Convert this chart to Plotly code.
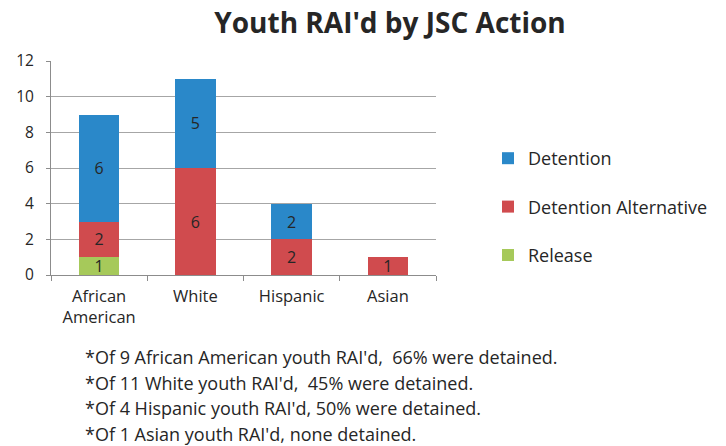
import plotly.graph_objects as go

# Youth RAI'd counts by JSC action, per race/ethnicity
categories = ["African<br>American", "White", "Hispanic", "Asian"]
release = [1, None, None, None]
detention_alt = [2, 6, 2, 1]
detention = [6, 5, 2, None]

y_ticks = [0, 2, 4, 6, 8, 10, 12]

notes = [
    "*Of 9 African American youth RAI'd,  66% were detained.",
    "*Of 11 White youth RAI'd,  45% were detained.",
    "*Of 4 Hispanic youth RAI'd, 50% were detained.",
    "*Of 1 Asian youth RAI'd, none detained.",
]

FONT = "'Open Sans', Lato, sans-serif"
TEXT_COLOR = "#262626"

# (name, values, colour, legend rank)
series = [
    ("Release", release, "#A6C95A", 3),
    ("Detention Alternative", detention_alt, "#D04B4E", 2),
    ("Detention", detention, "#2A88C9", 1),
]

fig = go.Figure()
for name, vals, color, rank in series:
    fig.add_trace(go.Bar(
        x=categories,
        y=vals,
        name=name,
        legendgroup=name,
        legendrank=rank,
        marker=dict(color=color, line=dict(width=0)),
        width=0.42,
        text=[str(v) if v else "" for v in vals],
        textposition="inside",
        insidetextanchor="middle",
        textangle=0,
        textfont=dict(family=FONT, size=16, color=TEXT_COLOR),
        constraintext="none",
        hoverinfo="skip",
    ))

W, H = 726, 446
ml, mr, mt, mb = 51, 290, 61, 171
plot_h = H - mt - mb

for i, line in enumerate(notes):
    ypix = 357 + i * 25.6
    fig.add_annotation(
        text=line,
        xref="paper", yref="paper",
        x=(83 - ml) / (W - ml - mr), y=(H - mb - ypix) / plot_h,
        xanchor="left", yanchor="middle",
        showarrow=False,
        font=dict(family=FONT, size=18, color=TEXT_COLOR),
    )

fig.update_layout(
    width=W, height=H,
    margin=dict(l=ml, r=mr, t=mt, b=mb, autoexpand=False),
    paper_bgcolor="white",
    plot_bgcolor="white",
    barmode="stack",
    title=dict(
        text="<b>Youth RAI'd by JSC Action</b>",
        x=390 / W, xanchor="center",
        y=1 - 23 / H, yanchor="middle",
        xref="container", yref="container",
        font=dict(family=FONT, size=28, color=TEXT_COLOR),
    ),
    showlegend=True,
    legend=dict(
        x=(488 - ml) / (W - ml - mr), xanchor="left",
        y=(H - mb - 140) / plot_h, yanchor="top",
        traceorder="grouped",
        tracegroupgap=22,
        font=dict(family=FONT, size=18, color=TEXT_COLOR),
        bgcolor="rgba(0,0,0,0)",
    ),
    xaxis=dict(
        type="category",
        showgrid=False,
        showline=True, linecolor="#8C8C8C", linewidth=1,
        ticks="outside", tickson="boundaries", ticklen=5, tickcolor="#8C8C8C",
        ticklabelstandoff=6,
        tickfont=dict(family=FONT, size=16.5, color=TEXT_COLOR),
        fixedrange=True,
    ),
    yaxis=dict(
        range=[0, 12],
        tickvals=y_ticks,
        showgrid=True, gridcolor="#A6A6A6", gridwidth=1,
        showline=True, linecolor="#8C8C8C", linewidth=1,
        ticks="outside", ticklen=4, tickcolor="#8C8C8C",
        ticklabelstandoff=9,
        tickfont=dict(family=FONT, size=15.5, color=TEXT_COLOR),
        zeroline=False,
        fixedrange=True,
    ),
)

fig.write_html("out.html")
